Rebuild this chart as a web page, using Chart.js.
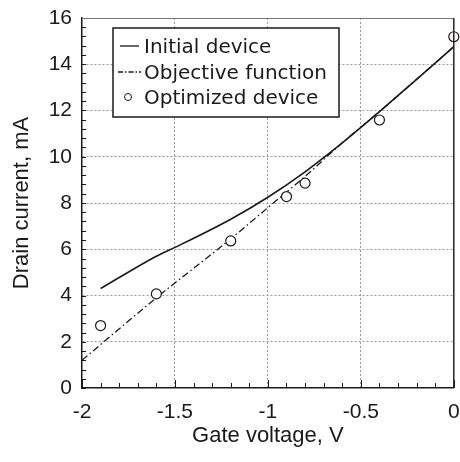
<!DOCTYPE html>
<html>
<head>
<meta charset="utf-8">
<script src="https://cdn.jsdelivr.net/npm/chart.js@4/dist/chart.umd.min.js"></script>
<style>
    html, body { margin: 0; padding: 0; background: #fff; }
    #wrap { width: 460px; height: 462px; }
</style>
</head>
<body>
<div id="wrap"><canvas id="chart" width="460" height="462"></canvas></div>
<script>
// Drain current vs gate voltage
const initialX = [-1.9, -1.6, -1.5, -1.2, -1.0, -0.8, -0.6, -0.4, -0.2, 0];
const initialY = [4.3, 5.7, 6.08, 7.3, 8.25, 9.35, 10.6, 11.95, 13.35, 14.76];

const objectiveX = [-2.0, -1.6, -1.2, -1.0, -0.8, -0.6, -0.4, -0.2, 0];
const objectiveY = [1.2, 3.9, 6.45, 7.8, 9.15, 10.6, 11.95, 13.35, 14.76];

const optimizedX = [-1.9, -1.6, -1.2, -0.9, -0.8, -0.4, 0];
const optimizedY = [2.7, 4.07, 6.36, 8.28, 8.86, 11.59, 15.19];

const xTicks = [-2, -1.5, -1, -0.5, 0];
const yTicks = [0, 2, 4, 6, 8, 10, 12, 14, 16];

const seriesLabels = ['Initial device', 'Objective function', 'Optimized device'];

const toPoints = (xs, ys) => xs.map((x, i) => ({ x, y: ys[i] }));

const INK = '#1a1a1a';
const GRID = '#9a9a9a';

/** gridlines only inside the frame, dotted */
const gridColor = (min, max) => (ctx) =>
    (ctx.tick && (ctx.tick.value === min || ctx.tick.value === max)) ? 'rgba(0,0,0,0)' : GRID;

/** minor ticks pointing into the plot + top/right frame */
const framePlugin = {
    id: 'frame',
    afterDatasetsDraw(chart) {
        const { ctx, chartArea: a, scales: { x, y } } = chart;
        ctx.save();
        ctx.strokeStyle = INK;
        ctx.lineWidth = 1;
        ctx.beginPath();
        for (let v = 0; v <= 16.001; v += 0.4) {
            const py = Math.round(y.getPixelForValue(v)) + 0.5;
            ctx.moveTo(a.left, py);
            ctx.lineTo(a.left + 4, py);
        }
        for (let k = -20; k <= 0; k++) {
            const px = Math.round(x.getPixelForValue(k / 10)) + 0.5;
            const len = k % 5 === 0 ? 8 : 5;
            ctx.moveTo(px, a.bottom);
            ctx.lineTo(px, a.bottom - len);
        }
        ctx.stroke();

        ctx.strokeStyle = '#777';
        ctx.lineWidth = 1;
        ctx.beginPath();
        ctx.moveTo(a.left, a.top + 0.5);
        ctx.lineTo(a.right, a.top + 0.5);
        ctx.stroke();
        ctx.strokeStyle = '#2a2030';
        ctx.lineWidth = 1.5;
        ctx.beginPath();
        ctx.moveTo(a.right, a.top);
        ctx.lineTo(a.right, a.bottom);
        ctx.stroke();
        ctx.restore();
    },
};

/** boxed legend in the upper-left corner of the plot */
const legendBoxPlugin = {
    id: 'legendBox',
    afterDraw(chart) {
        const { ctx, chartArea: a } = chart;
        const bx = a.left + 31, by = a.top + 10, bw = 226, bh = 89;
        ctx.save();
        ctx.fillStyle = '#fff';
        ctx.fillRect(bx, by, bw, bh);
        ctx.strokeStyle = INK;
        ctx.lineWidth = 1.5;
        ctx.strokeRect(bx, by, bw, bh);

        ctx.font = '20px "DejaVu Sans"';
        ctx.fillStyle = INK;
        ctx.textBaseline = 'alphabetic';
        const tx = bx + 31;
        const base = [by + 25, by + 51, by + 76];
        seriesLabels.forEach((t, i) => ctx.fillText(t, tx, base[i]));

        ctx.lineWidth = 1.3;
        ctx.beginPath();
        ctx.moveTo(bx + 7, base[0] - 7);
        ctx.lineTo(bx + 26, base[0] - 7);
        ctx.stroke();

        ctx.setLineDash([5, 2, 1.5, 2]);
        ctx.beginPath();
        ctx.moveTo(bx + 5, base[1] - 7);
        ctx.lineTo(bx + 28, base[1] - 7);
        ctx.stroke();
        ctx.setLineDash([]);

        ctx.lineWidth = 1;
        ctx.beginPath();
        ctx.arc(bx + 15, base[2] - 7, 3.5, 0, Math.PI * 2);
        ctx.stroke();
        ctx.restore();
    },
};

new Chart(document.getElementById('chart'), {
    type: 'scatter',
    data: {
        datasets: [
            {
                label: seriesLabels[2],
                data: toPoints(optimizedX, optimizedY),
                showLine: false,
                pointStyle: 'circle',
                pointRadius: 5,
                pointBorderWidth: 1.2,
                pointBorderColor: INK,
                pointBackgroundColor: '#fff',
                clip: false,
                order: 0,
            },
            {
                label: seriesLabels[0],
                data: toPoints(initialX, initialY),
                showLine: true,
                borderColor: INK,
                borderWidth: 1.6,
                pointRadius: 0,
                cubicInterpolationMode: 'monotone',
                order: 1,
            },
            {
                label: seriesLabels[1],
                data: toPoints(objectiveX, objectiveY),
                showLine: true,
                borderColor: INK,
                borderWidth: 1.3,
                borderDash: [7, 3, 1.5, 3],
                pointRadius: 0,
                cubicInterpolationMode: 'monotone',
                order: 2,
            },
        ],
    },
    options: {
        responsive: false,
        animation: false,
        devicePixelRatio: 1,
        layout: { padding: { top: 18, right: 6, bottom: 0, left: 0 } },
        plugins: {
            legend: { display: false },
            tooltip: { enabled: false },
        },
        scales: {
            x: {
                type: 'linear',
                min: xTicks[0],
                max: xTicks[xTicks.length - 1],
                afterBuildTicks: (s) => { s.ticks = xTicks.map((v) => ({ value: v })); },
                afterFit: (s) => { s.height = 74; s.paddingLeft = 0; s.paddingRight = 0; },
                ticks: {
                    color: INK,
                    padding: 12,
                    maxRotation: 0,
                    font: { family: '"Liberation Sans", Arial, sans-serif', size: 21 },
                    callback: (v) => String(v),
                },
                grid: { color: gridColor(xTicks[0], xTicks[xTicks.length - 1]), lineWidth: 1, drawTicks: false },
                border: { display: true, color: INK, width: 1.5, dash: [2, 2] },
                title: {
                    display: true,
                    text: 'Gate voltage, V',
                    color: INK,
                    font: { family: '"Liberation Sans", Arial, sans-serif', size: 22 },
                    padding: { top: 0, bottom: 13 },
                },
            },
            y: {
                type: 'linear',
                min: yTicks[0],
                max: yTicks[yTicks.length - 1],
                afterBuildTicks: (s) => { s.ticks = yTicks.map((v) => ({ value: v })); },
                afterFit: (s) => { s.width = 82; s.paddingTop = 0; s.paddingBottom = 0; },
                ticks: {
                    color: INK,
                    padding: 10,
                    font: { family: '"Liberation Sans", Arial, sans-serif', size: 21 },
                    callback: (v) => String(v),
                },
                grid: { color: gridColor(yTicks[0], yTicks[yTicks.length - 1]), lineWidth: 1, drawTicks: false },
                border: { display: true, color: INK, width: 1.5, dash: [2, 2] },
                title: {
                    display: true,
                    text: 'Drain current, mA',
                    color: INK,
                    font: { family: '"Liberation Sans", Arial, sans-serif', size: 22 },
                    padding: { top: 9, bottom: 0 },
                },
            },
        },
    },
    plugins: [framePlugin, legendBoxPlugin],
});
</script>
</body>
</html>
